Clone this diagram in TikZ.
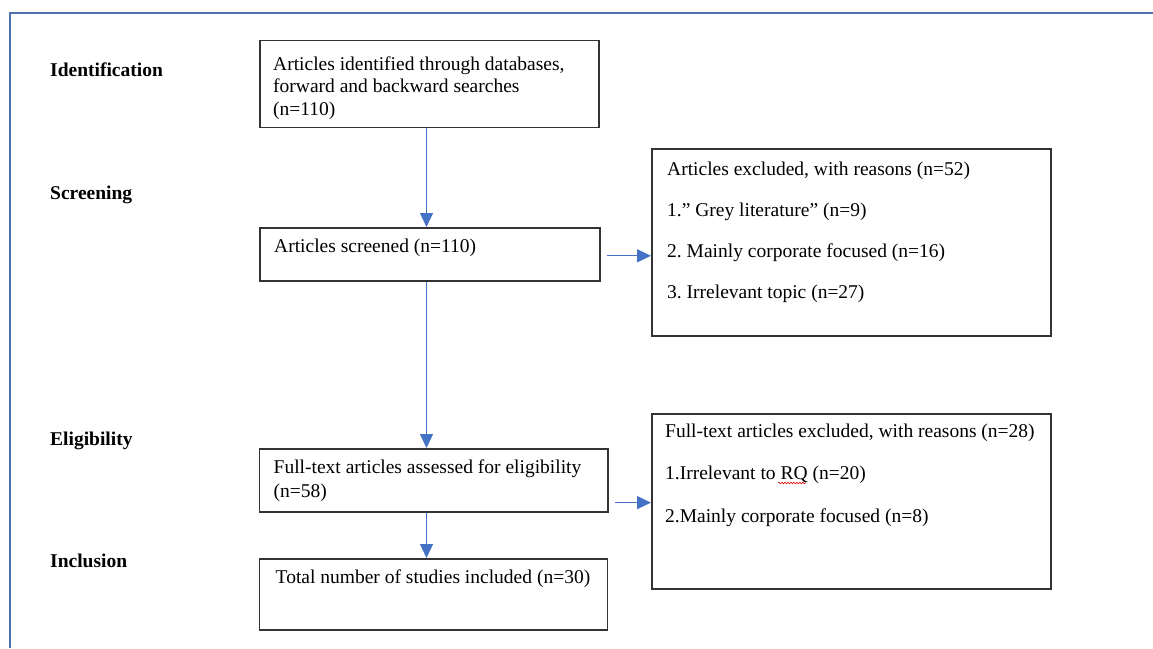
\documentclass[tikz,border=0pt]{standalone}
\usepackage{fontspec}
\setmainfont{Liberation Serif}
\usetikzlibrary{arrows.meta,positioning,decorations.pathmorphing}
\definecolor{flowblue}{RGB}{68,114,196}
\definecolor{frameblue}{RGB}{79,113,175}
\frenchspacing
\tikzset{
  stagebox/.style={draw=black!80,line width=1.6pt,anchor=north west,inner sep=0pt},
  boxtext/.style={anchor=north west,inner sep=0pt,align=left,font=\fontsize{19.5}{22.5}\selectfont},
  wideboxtext/.style={boxtext,font=\fontsize{19.5}{41}\selectfont},
  stagelabel/.style={anchor=base west,inner sep=0pt,font=\fontsize{19.5}{22.5}\selectfont\bfseries},
  flow/.style={->,draw=flowblue,line width=1.3pt}
}

\begin{document}
\begin{tikzpicture}[x=1pt,y=-1pt,>={Triangle[width=13pt,length=14pt]}]
        \useasboundingbox (0,0) rectangle (1153,648);
        \draw[frameblue,line width=2pt] (1153,13) -- (10,13) -- (10,648);
        % stage names
        \node[stagelabel] (lident) at (50,76) {Identification};
        \node[stagelabel] (lscreen) at (50,199) {Screening};
        \node[stagelabel] (lelig) at (50,445) {Eligibility};
        \node[stagelabel] (lincl) at (50,567) {Inclusion};
        % boxes
        \node[stagebox,minimum width=339pt,minimum height=87pt] (ident) at (259,39.5) {};
        \node[stagebox,minimum width=340pt,minimum height=53pt] (screen) at (259,227) {};
        \node[stagebox,minimum width=399pt,minimum height=187pt] (excla) at (651,148) {};
        \node[stagebox,minimum width=348.5pt,minimum height=63pt] (elig) at (258.5,448) {};
        \node[stagebox,minimum width=399pt,minimum height=175pt] (exclb) at (651,413) {};
        \node[stagebox,minimum width=348pt,minimum height=71pt] (incl) at (258.5,558) {};
        \node[boxtext,below right=17pt and 14pt of ident.north west] (tident)
          {Articles identified through databases,\\forward and backward searches\\(n=110)};
        \node[boxtext,below right=11.5pt and 15pt of screen.north west] (tscreen)
          {Articles screened (n=110)};
        \node[wideboxtext,below right=13.5pt and 16pt of excla.north west] (texcla)
          {Articles excluded, with reasons (n=52)\\1.” Grey literature” (n=9)\\2. Mainly corporate focused (n=16)\\3. Irrelevant topic (n=27)};
        \node[boxtext,font=\fontsize{19.5}{24}\selectfont,below right=11.5pt and 15pt of elig.north west] (telig)
          {Full-text articles assessed for eligibility\\(n=58)};
        \node[wideboxtext,font=\fontsize{19.5}{42.5}\selectfont,below right=10.5pt and 14pt of exclb.north west] (texclb)
          {Full-text articles excluded, with reasons (n=28)\\1.Irrelevant to RQ (n=20)\\2.Mainly corporate focused (n=8)};
        \node[boxtext,below right=11.5pt and 17pt of incl.north west] (tincl)
          {Total number of studies included (n=30)};
        % spell-check mark under RQ
        \draw[red!85!black,line width=0.6pt,decorate,decoration={snake,amplitude=0.8pt,segment length=3pt}]
          (778,483) -- (806,483);
        % connectors
        \coordinate (spine) at (426.5,0);
        \coordinate (screenout) at ([xshift=6pt,yshift=-1.5pt]screen.east);
        \coordinate (eligout) at ([xshift=6pt,yshift=10pt]elig.south east);
        \draw[flow] (ident.south -| spine) -- (screen.north -| spine);
        \draw[flow] (screen.south -| spine) -- (elig.north -| spine);
        \draw[flow] (elig.south -| spine) -- (incl.north -| spine);
        \draw[flow] (screenout) -- (screenout -| excla.west);
        \draw[flow] (eligout) -- (eligout -| exclb.west);
      \end{tikzpicture}
\end{document}
